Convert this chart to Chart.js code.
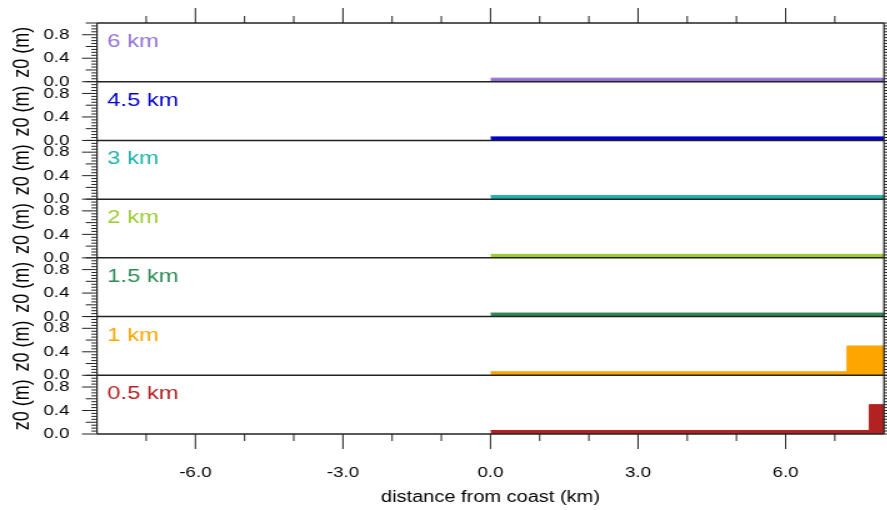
<!DOCTYPE html>
<html>
<head>
<meta charset="utf-8">
<script src="https://cdn.jsdelivr.net/npm/chart.js@4/dist/chart.umd.min.js"></script>
<style>
  body { margin: 0; background: #fff; overflow: hidden; }
  /* the reference figure is stretched sideways, so the whole chart is too */
  #wrap { width: 710px; height: 510px; transform: scaleX(1.25); transform-origin: 0 0; }
</style>
</head>
<body>
<div id="wrap"><canvas id="myChart" width="710" height="510"></canvas></div>
<script>
// panels, top to bottom
const resolutions = ['6 km', '4.5 km', '3 km', '2 km', '1.5 km', '1 km', '0.5 km'];
const lineColors = ['#9370db', '#0000cd', '#20b2aa', '#9acd32', '#2e8b57', '#ffa500', '#b22222'];

// distance from coast (km) where z0 changes, and z0 (m) from there on
const dist6km = [0, 8];        const z0_6km = [0.06, 0.06];
const dist4p5km = [0, 8];      const z0_4p5km = [0.06, 0.06];
const dist3km = [0, 8];        const z0_3km = [0.06, 0.06];
const dist2km = [0, 8];        const z0_2km = [0.06, 0.06];
const dist1p5km = [0, 8];      const z0_1p5km = [0.06, 0.06];
const dist1km = [0, 7.25, 8];  const z0_1km = [0.06, 0.5, 0.5];
const dist0p5km = [0, 7.7, 8]; const z0_0p5km = [0.06, 0.5, 0.5];

const distances = [dist6km, dist4p5km, dist3km, dist2km, dist1p5km, dist1km, dist0p5km];
const z0Values = [z0_6km, z0_4p5km, z0_3km, z0_2km, z0_1p5km, z0_1km, z0_0p5km];

const xTicks = [-6, -3, 0, 3, 6];
const yTicks = [0, 0.4, 0.8];

const fontFamily = "'Liberation Sans', Arial, Helvetica, sans-serif";
Chart.defaults.font.family = fontFamily;
Chart.defaults.color = '#000';

const yIds = resolutions.map((r, i) => 'y' + i);

const datasets = resolutions.map((r, i) => ({
    label: r,
    data: distances[i].map((d, j) => ({ x: d, y: z0Values[i][j] })),
    xAxisID: 'x',
    yAxisID: yIds[i],
    stepped: 'before',
    fill: 'origin',
    borderColor: lineColors[i],
    backgroundColor: lineColors[i],
    borderWidth: 1,
    pointRadius: 0
}));

const scales = {
    x: {
        type: 'linear', position: 'bottom', min: -8, max: 8,
        afterBuildTicks: s => { s.ticks = xTicks.map(v => ({ value: v })); },
        ticks: { font: { size: 15 }, padding: 22, maxRotation: 0, autoSkip: false, callback: v => v.toFixed(1) },
        grid: { display: false },
        border: { display: false },
        title: { display: true, text: 'distance from coast (km)', font: { size: 16 }, padding: { top: 0, bottom: 2.6 } },
        afterFit: s => { s.height = 76; }
    },
    x2: {
        type: 'linear', position: 'top', min: -8, max: 8,
        ticks: { display: false },
        grid: { display: false },
        border: { display: false },
        afterFit: s => { s.height = 22; }
    }
};

// stacked left axes: the last one defined ends up on top
for (let i = resolutions.length - 1; i >= 0; i--) {
    scales[yIds[i]] = {
        type: 'linear', position: 'left', stack: 'z0', stackWeight: 1,
        min: 0, max: 1,
        afterBuildTicks: s => { s.ticks = yTicks.map(v => ({ value: v })); },
        ticks: { font: { size: 15 }, padding: 14, autoSkip: false, callback: v => v.toFixed(1) },
        grid: { display: false },
        border: { display: false },
        title: { display: true, text: 'z0 (m)', font: { size: 18 }, padding: { top: 7.2, bottom: 0 } },
        afterFit: s => { s.width = 77.6; }
    };
}

// frame, tick marks and panel names
const panelFrame = {
    id: 'panelFrame',
    afterDatasetsDraw(chart) {
        const { ctx, chartArea: a } = chart;
        const x = chart.scales.x;
        const line = (x1, y1, x2, y2) => { ctx.beginPath(); ctx.moveTo(x1, y1); ctx.lineTo(x2, y2); ctx.stroke(); };
        ctx.save();
        ctx.strokeStyle = '#222';

        ctx.lineWidth = 1;
        for (let k = -7; k <= 7; k++) {
            const px = x.getPixelForValue(k);
            const len = k % 3 === 0 ? 15 : 7;
            line(px, a.bottom, px, a.bottom + len);
            line(px, a.top, px, a.top - len);
        }

        yIds.forEach(id => {
            const s = chart.scales[id];
            for (let i = 0; i <= 20; i++) {
                const py = s.getPixelForValue(i * 0.05);
                const len = i % 8 === 0 ? 12 : (i % 4 === 0 ? 9 : 4.5);
                line(a.left - len, py, a.left, py);
                line(a.right, py, a.right + 3, py);
            }
        });

        ctx.lineWidth = 1.5;
        yIds.forEach(id => {
            const s = chart.scales[id];
            line(a.left, s.bottom, a.right, s.bottom);
        });
        line(a.left, a.top, a.right, a.top);
        ctx.lineWidth = 1.2;
        line(a.left, a.top, a.left, a.bottom);
        line(a.right, a.top, a.right, a.bottom);

        ctx.font = '19px ' + fontFamily;
        ctx.textAlign = 'left';
        ctx.textBaseline = 'alphabetic';
        yIds.forEach((id, i) => {
            const s = chart.scales[id];
            ctx.fillStyle = lineColors[i];
            ctx.fillText(resolutions[i], a.left + 8.2, s.top + 24);
        });
        ctx.restore();
    }
};

const ctx1 = document.getElementById('myChart').getContext('2d');
const myChart = new Chart(ctx1, {
    type: 'line',
    data: { datasets: datasets },
    options: {
        responsive: false,
        animation: false,
        layout: { padding: { left: 0, right: 2.8, top: 0, bottom: 0 } },
        plugins: { legend: { display: false }, tooltip: { enabled: false } },
        scales: scales
    },
    plugins: [panelFrame]
});
</script>
</body>
</html>
